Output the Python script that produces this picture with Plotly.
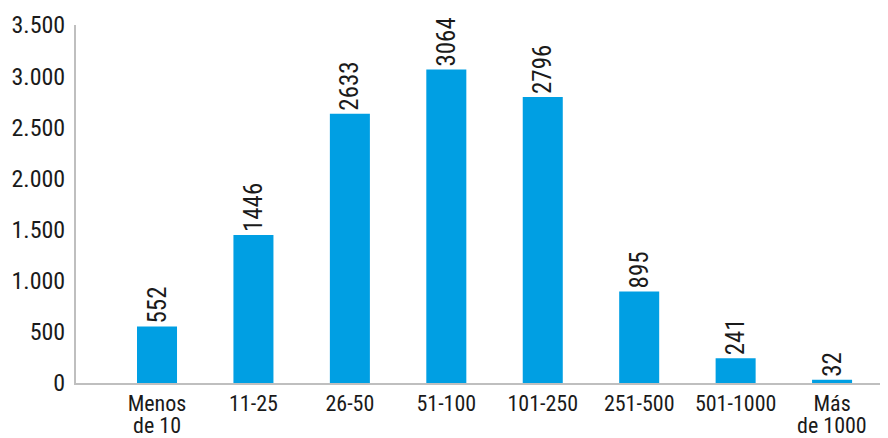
import plotly.graph_objects as go

# categories and counts
firstLines = ["Menos", "11-25", "26-50", "51-100", "101-250", "251-500", "501-1000", "Más"]
secondLines = ["de 10", "", "", "", "", "", "", "de 1000"]
counts = [552, 1446, 2633, 3064, 2796, 895, 241, 32]
yTicks = [0, 500, 1000, 1500, 2000, 2500, 3000, 3500]

fontName = "Roboto Condensed, Liberation Sans Narrow, sans-serif"
pos = list(range(len(counts)))

fig = go.Figure()

fig.add_trace(go.Bar(
    x=pos,
    y=counts,
    width=0.415,
    marker=dict(color="#009FE3", line=dict(width=0)),
    text=[str(c) for c in counts],
    textposition="outside",
    textangle=-90,
    constraintext="none",
    textfont=dict(family=fontName, size=25, color="#1a1a1a"),
    cliponaxis=False,
))

# second line of the two-line category labels, kept tight like the original
for i, t in enumerate(secondLines):
    if t:
        fig.add_annotation(x=pos[i], y=0, xref="x", yref="paper", text=t, showarrow=False,
                           yanchor="top", yshift=-28, font=dict(family=fontName, size=22, color="#1a1a1a"))

# page body has an 8px margin, so the figure is a bit smaller than the window
fig.update_layout(
    width=880, height=430,
    margin=dict(l=68, r=0, t=17, b=55),
    paper_bgcolor="white", plot_bgcolor="white",
    separators=",.",
    showlegend=False,
    font=dict(family=fontName, size=24, color="#1a1a1a"),
    xaxis=dict(
        range=[-0.84, 7.58],
        tickvals=pos,
        ticktext=firstLines,
        showgrid=False, zeroline=False,
        showline=True, linecolor="#bfbfbf", linewidth=2,
        ticks="", tickfont=dict(size=22),
        automargin=False,
    ),
    yaxis=dict(
        range=[0, 3500],
        tickvals=yTicks,
        tickformat=",d",
        showgrid=False, zeroline=False,
        showline=True, linecolor="#bfbfbf", linewidth=2,
        ticks="", ticklabelstandoff=4,
        tickfont=dict(size=24),
        automargin=False,
    ),
)

fig.write_html("out.html")
